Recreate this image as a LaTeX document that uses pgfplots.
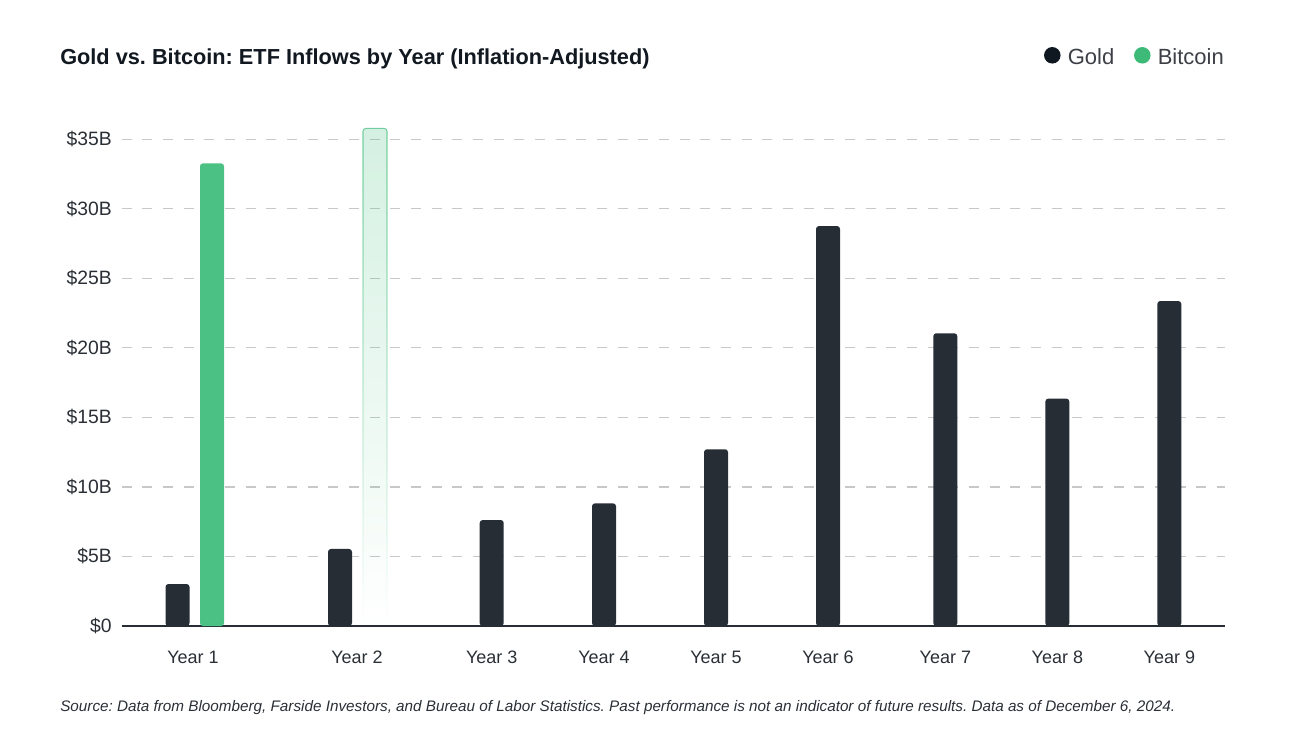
\documentclass[border=0pt]{standalone}
\usepackage{pgfplots}
\pgfplotsset{compat=1.18}
\usepackage{fontspec}
\setmainfont{Liberation Sans}
\usetikzlibrary{fadings}
\definecolor{gold}{HTML}{262D35}
\definecolor{golddot}{HTML}{0F1821}
\definecolor{btc}{HTML}{4CC184}
\definecolor{btcdot}{HTML}{3DBA78}
\definecolor{gridc}{HTML}{C8C8C8}
\definecolor{txt}{HTML}{2A2F36}
\definecolor{legtxt}{HTML}{3C3F46}
\definecolor{titlec}{HTML}{111820}
\frenchspacing
\begin{document}
\frenchspacing
\begin{tikzpicture}[x=0.75pt,y=0.75pt]
\path[use as bounding box] (0,0) rectangle (1304,740);
\begin{axis}[
  at={(91.275pt,85.5pt)}, anchor=south west,
  scale only axis, width=827.5pt, height=385.9pt,
  xmin=121.7, xmax=1225, ymin=0, ymax=37,
  axis x line=bottom, axis y line=left,
  x axis line style={-, draw=gold, line width=1.1pt},
  y axis line style={draw=none},
  major tick length=0pt,
  xtick={193,357,491.7,604,716,828,945.3,1057.3,1169.3},
  xticklabels={Year 1,Year 2,Year 3,Year 4,Year 5,Year 6,Year 7,Year 8,Year 9},
  ytick={0,5,10,15,20,25,30,35},
  yticklabels={\$0,\$5B,\$10B,\$15B,\$20B,\$25B,\$30B,\$35B},
  ymajorgrids,
  grid style={gridc, line width=0.9pt, dash pattern=on 7.5pt off 8pt},
  tick label style={text=txt},
  xticklabel style={font=\fontsize{13.5}{16}\selectfont, yshift=-15pt},
  yticklabel style={font=\fontsize{14.5}{17}\selectfont, xshift=-4pt},
  clip=false,
]
% Gold
\addplot[ybar, bar width=18pt, bar shift=0pt, fill=gold, draw=none, rounded corners=2.2pt]
  coordinates {(177.5,3.02) (340,5.54) (491.7,7.62) (604,8.82) (716,12.71) (828,28.76) (945.3,21.05) (1057.3,16.35) (1169.3,23.37)};
% Bitcoin year 1
\addplot[ybar, bar width=18pt, bar shift=0pt, fill=btc, draw=none, rounded corners=2.2pt]
  coordinates {(212,33.27)};
% Bitcoin year 2 (partial, faded)
\addplot[ybar, bar width=18pt, bar shift=0pt, fill=btc, fill opacity=0.24, draw=btc, draw opacity=0.75, line width=0.8pt, rounded corners=2.2pt, path fading=south]
  coordinates {(375,35.79)};
\end{axis}
\node[anchor=base west, font=\fontsize{16.3}{19}\selectfont\bfseries, text=titlec, inner sep=0pt] at (60,675) {Gold vs. Bitcoin: ETF Inflows by Year (Inflation-Adjusted)};
\fill[golddot] (1052.3,684.7) circle[radius=6.2pt];
\node[anchor=base west, font=\fontsize{16.5}{19}\selectfont, text=legtxt, inner sep=0pt] at (1067.5,675) {Gold};
\fill[btcdot] (1142.3,684.7) circle[radius=6.2pt];
\node[anchor=base west, font=\fontsize{16.5}{19}\selectfont, text=legtxt, inner sep=0pt] at (1157.5,675) {Bitcoin};
\node[anchor=base west, font=\fontsize{11.45}{13}\selectfont\itshape, text=txt, inner sep=0pt] at (60,29) {Source: Data from Bloomberg, Farside Investors, and Bureau of Labor Statistics. Past performance is not an indicator of future results. Data as of December 6, 2024.};
\end{tikzpicture}
\end{document}
